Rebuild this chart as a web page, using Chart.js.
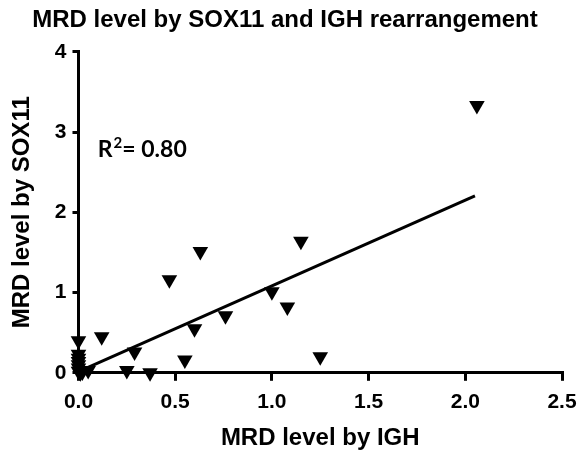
<!DOCTYPE html>
<html>
<head>
<meta charset="utf-8">
<script src="https://cdn.jsdelivr.net/npm/chart.js@4.4.1/dist/chart.umd.min.js"></script>
<style>
  html, body { margin: 0; padding: 0; background: #fff; }
  #wrap { width: 587px; height: 450px; }
</style>
</head>
<body>
<div id="wrap"><canvas id="scatterChart" width="587" height="450"></canvas></div>
<script>
// MRD level measured by IGH (x) and by SOX11 (y)
const ighLevel = [2.06, 1.15, 0.63, 0.47, 1.00, 1.08, 0.76, 0.60, 0.12, 0.00, 0.29, 0.55, 1.25, 0.25, 0.37, 0.05,
    0.00, 0.00, 0.00, 0.00, 0.00, 0.00, 0.01, 0.02];
const sox11Level = [3.33, 1.64, 1.51, 1.16, 1.01, 0.82, 0.71, 0.55, 0.45, 0.40, 0.26, 0.16, 0.20, 0.03, 0.00, 0.03,
    0.23, 0.18, 0.14, 0.10, 0.06, 0.02, 0.00, 0.01];

// linear fit line
const fitX = [0, 2.05];
const fitY = [0.016, 2.205];

const xTickValues = [0, 0.5, 1.0, 1.5, 2.0, 2.5];
const yTickValues = [0, 1, 2, 3, 4];

const rSquaredLabel = '0.80';

const font = "'Liberation Sans', Arial, sans-serif";

const scatterPoints = ighLevel.map((x, i) => ({ x: x, y: sox11Level[i] }));
const fitPoints = fitX.map((x, i) => ({ x: x, y: fitY[i] }));

// R squared text in the upper left of the plot
const rSquaredPlugin = {
    id: 'rSquared',
    afterDatasetsDraw(chart) {
        const c = chart.ctx;
        const px = chart.scales.x.getPixelForValue(0.1);
        const py = chart.scales.y.getPixelForValue(2.69);
        c.save();
        c.fillStyle = '#000';
        c.textBaseline = 'alphabetic';
        c.textAlign = 'left';
        c.font = "bold 23px Lato, 'Open Sans', sans-serif";
        c.fillText('R', px, py);
        let w = c.measureText('R').width;
        c.font = "bold 15px Lato, 'Open Sans', sans-serif";
        c.fillText('2', px + w + 1, py - 9);
        w += c.measureText('2').width + 1;
        c.font = "bold 23px Lato, 'Open Sans', sans-serif";
        c.fillText('= ' + rSquaredLabel, px + w, py);
        c.restore();
    }
};

const config = {
    type: 'scatter',
    data: {
        datasets: [{
            type: 'line',
            data: fitPoints,
            borderColor: '#000',
            borderWidth: 3,
            pointRadius: 0,
            fill: false,
            clip: false,
            order: 2,
        }, {
            data: scatterPoints,
            pointStyle: 'triangle',
            rotation: 180,
            pointRadius: 9,
            pointHoverRadius: 9,
            backgroundColor: '#000',
            borderColor: '#000',
            borderWidth: 0,
            clip: false,
            order: 1,
        }]
    },
    options: {
        responsive: false,
        animation: false,
        layout: {
            padding: { left: 8, right: 25, top: 0, bottom: 0 }
        },
        plugins: {
            legend: { display: false },
            tooltip: { enabled: false },
            title: {
                display: true,
                text: 'MRD level by SOX11 and IGH rearrangement',
                color: '#000',
                font: { family: font, size: 24, weight: 'bold' },
                padding: { top: 6, bottom: 17 }
            }
        },
        scales: {
            x: {
                type: 'linear',
                min: 0,
                max: 2.5,
                afterBuildTicks: (scale) => { scale.ticks = xTickValues.map(v => ({ value: v })); },
                border: { display: true, color: '#000', width: 3 },
                grid: { display: true, drawOnChartArea: false, drawTicks: true, tickLength: 8, color: '#000', lineWidth: 3 },
                ticks: {
                    color: '#000',
                    padding: 9,
                    maxRotation: 0,
                    font: { family: font, size: 21, weight: 'bold' },
                    callback: (v) => Number(v).toFixed(1)
                },
                title: {
                    display: true,
                    text: 'MRD level by IGH',
                    color: '#000',
                    font: { family: font, size: 24, weight: 'bold', lineHeight: 1.0 },
                    padding: { top: 2, bottom: 0 }
                }
            },
            y: {
                type: 'linear',
                min: 0,
                max: 4,
                afterBuildTicks: (scale) => { scale.ticks = yTickValues.map(v => ({ value: v })); },
                border: { display: true, color: '#000', width: 3 },
                grid: { display: true, drawOnChartArea: false, drawTicks: true, tickLength: 6, color: '#000', lineWidth: 3 },
                ticks: {
                    color: '#000',
                    padding: 6,
                    font: { family: font, size: 21, weight: 'bold' },
                    callback: (v) => String(v)
                },
                title: {
                    display: true,
                    text: 'MRD level by SOX11',
                    color: '#000',
                    font: { family: font, size: 24, weight: 'bold' },
                    padding: { top: 0, bottom: 12 }
                }
            }
        }
    },
    plugins: [rSquaredPlugin]
};

const scatterChart = new Chart(document.getElementById('scatterChart'), config);
</script>
</body>
</html>
